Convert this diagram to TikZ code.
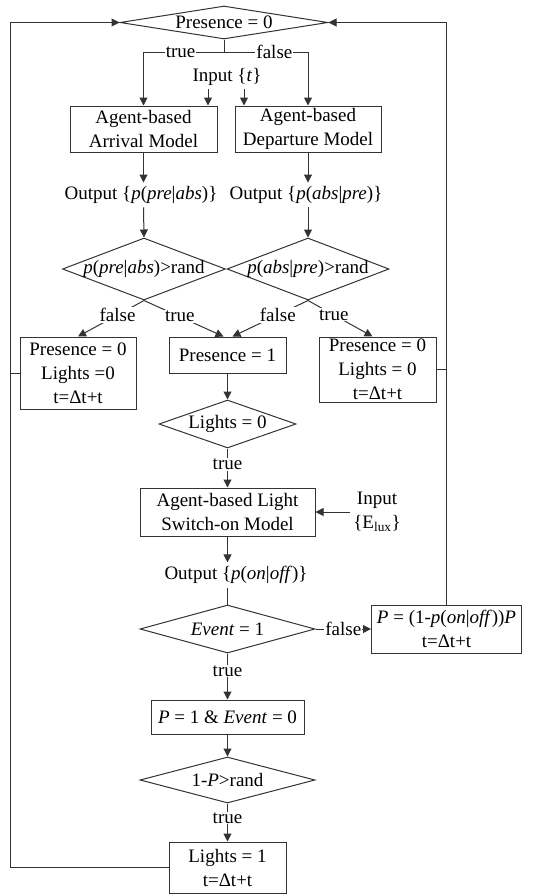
\documentclass[tikz,border=0pt]{standalone}
\usepackage{fontspec}
\setmainfont{Liberation Serif}
\usetikzlibrary{shapes.geometric,arrows.meta}
\tikzset{
 bx/.style={rectangle,draw,align=center,inner sep=0pt},
 dc/.style={diamond,draw,aspect=1,inner sep=0pt},
 lb/.style={fill=white,inner sep=1pt},
 ar/.style={-{Triangle[length=8pt,width=8pt]}}}

\begin{document}
\begin{tikzpicture}[x=1pt,y=-1pt,line width=1pt,draw=black!80,
 font=\fontsize{19}{24}\selectfont]
 \useasboundingbox (0,0) rectangle (542,894);
 % top decision and the two models
 \node[dc,minimum width=208pt,minimum height=33pt] (d0) at (224,22.5) {\makebox[0pt]{Presence = 0}};
 \node (it) at (227,77) {Input \{\textit{t}\}};
 \node[bx,minimum width=147pt,minimum height=46pt] (am) at (143.5,129) {Agent-based\\Arrival Model};
 \node[bx,minimum width=146pt,minimum height=46pt] (dm) at (308,129) {Agent-based\\Departure Model};
 \node (o1) at (141,195) {Output \{\textit{p}(\textit{pre}|\textit{abs})\}};
 \node (o2) at (306,195) {Output \{\textit{p}(\textit{abs}|\textit{pre})\}};
 \node[dc,minimum width=163pt,minimum height=62pt] (dl) at (144,269) {\makebox[0pt]{\textit{p}(\textit{pre}|\textit{abs})>rand}};
 \node[dc,minimum width=162pt,minimum height=62pt] (dr) at (308,269) {\makebox[0pt]{\textit{p}(\textit{abs}|\textit{pre})>rand}};
 \node[bx,minimum width=116pt,minimum height=72pt] (b1) at (78,373) {Presence = 0\\Lights =0\\t=Δt+t};
 \node[bx,minimum width=117pt,minimum height=36pt] (p1) at (227.5,355) {Presence = 1};
 \node[bx,minimum width=117pt,minimum height=65pt] (b3) at (377.5,369.5) {Presence = 0\\Lights = 0\\t=Δt+t};
 % light switch part
 \node[dc,minimum width=137pt,minimum height=48pt] (ld) at (227.5,424) {\makebox[0pt]{Lights = 0}};
 \node[bx,minimum width=175pt,minimum height=48pt] (lm) at (227.5,512) {Agent-based Light\\Switch-on Model};
 \node[align=center] (e1) at (377,512) {Input\\\{E\textsubscript{lux}\}};
 \node (o3) at (236,575) {Output \{\textit{p}(\textit{on}|\textit{off})\}};
 \node[dc,minimum width=175pt,minimum height=48pt] (ev) at (227.5,629) {\makebox[0pt]{\textit{Event} = 1}};
 \node[bx,minimum width=150pt,minimum height=48pt] (pb) at (446.5,629) {\textit{P} = (1-\textit{p}(\textit{on}|\textit{off}))\textit{P}\\t=Δt+t};
 \node[bx,minimum width=153pt,minimum height=34pt] (pe) at (227.5,717) {\textit{P} = 1 \& \textit{Event} = 0};
 \node[dc,minimum width=175pt,minimum height=46pt] (rd) at (227.5,780) {\makebox[0pt]{1-\textit{P}>rand}};
 \node[bx,minimum width=117pt,minimum height=51pt] (l1) at (227.5,867.5) {Lights = 1\\t=Δt+t};
 \coordinate (sp) at (224,52);
 \coordinate (lc) at (10,870);
 % connectors
 \draw (d0.south) -- (sp);
 \draw[ar] (sp) -| node[lb,pos=0.27]{true} (am.north);
 \draw[ar] (sp) -| node[lb,pos=0.3]{false} (dm.north);
 \draw[ar] ([xshift=-19pt]it.south) -- ([xshift=-19pt]it.south |- am.north);
 \draw[ar] ([xshift=17pt]it.south) -- ([xshift=17pt]it.south |- dm.north);
 \draw[ar] (am.south) -- (am.south |- o1.north);
 \draw[ar] (dm.south) -- (dm.south |- o2.north);
 \draw[ar] (am.south |- o1.south) -- (dl.north);
 \draw[ar] (dm.south |- o2.south) -- (dr.north);
 \draw[ar] (dl.south) -- node[lb,pos=0.4]{false} (b1.north);
 \draw[ar] (dl.south) -- node[lb,pos=0.45]{true} ([xshift=-4pt]p1.north);
 \draw[ar] (dr.south) -- node[lb,pos=0.4]{false} ([xshift=5pt]p1.north);
 \draw[ar] (dr.south) -- node[lb,pos=0.4]{true} ([xshift=-5pt]b3.north);
 \draw[ar] (p1.south) -- (ld.north);
 \draw[ar] (ld.south) -- node[lb,pos=0.4]{true} (lm.north);
 \draw[ar] (e1.west) -- (lm.east);
 \draw[ar] (lm.south) -- (lm.south |- o3.north);
 \draw (lm.south |- o3.south) -- (ev.north);
 \draw[ar] (ev.east) -- node[lb]{false} (pb.west);
 \draw[ar] (ev.south) -- node[lb,pos=0.38]{true} (pe.north);
 \draw[ar] (pe.south) -- (rd.north);
 \draw[ar] (rd.south) -- node[lb,pos=0.38]{true} (l1.north);
 % loops back to the top
 \draw[ar] (l1.west) -- (l1.west -| lc) |- (d0.west);
 \draw (b1.west) -- (b1.west -| lc);
 \draw[ar] (pb.north) |- (d0.east);
 \draw (b3.east) -- (b3.east -| pb.north);
\end{tikzpicture}
\end{document}
